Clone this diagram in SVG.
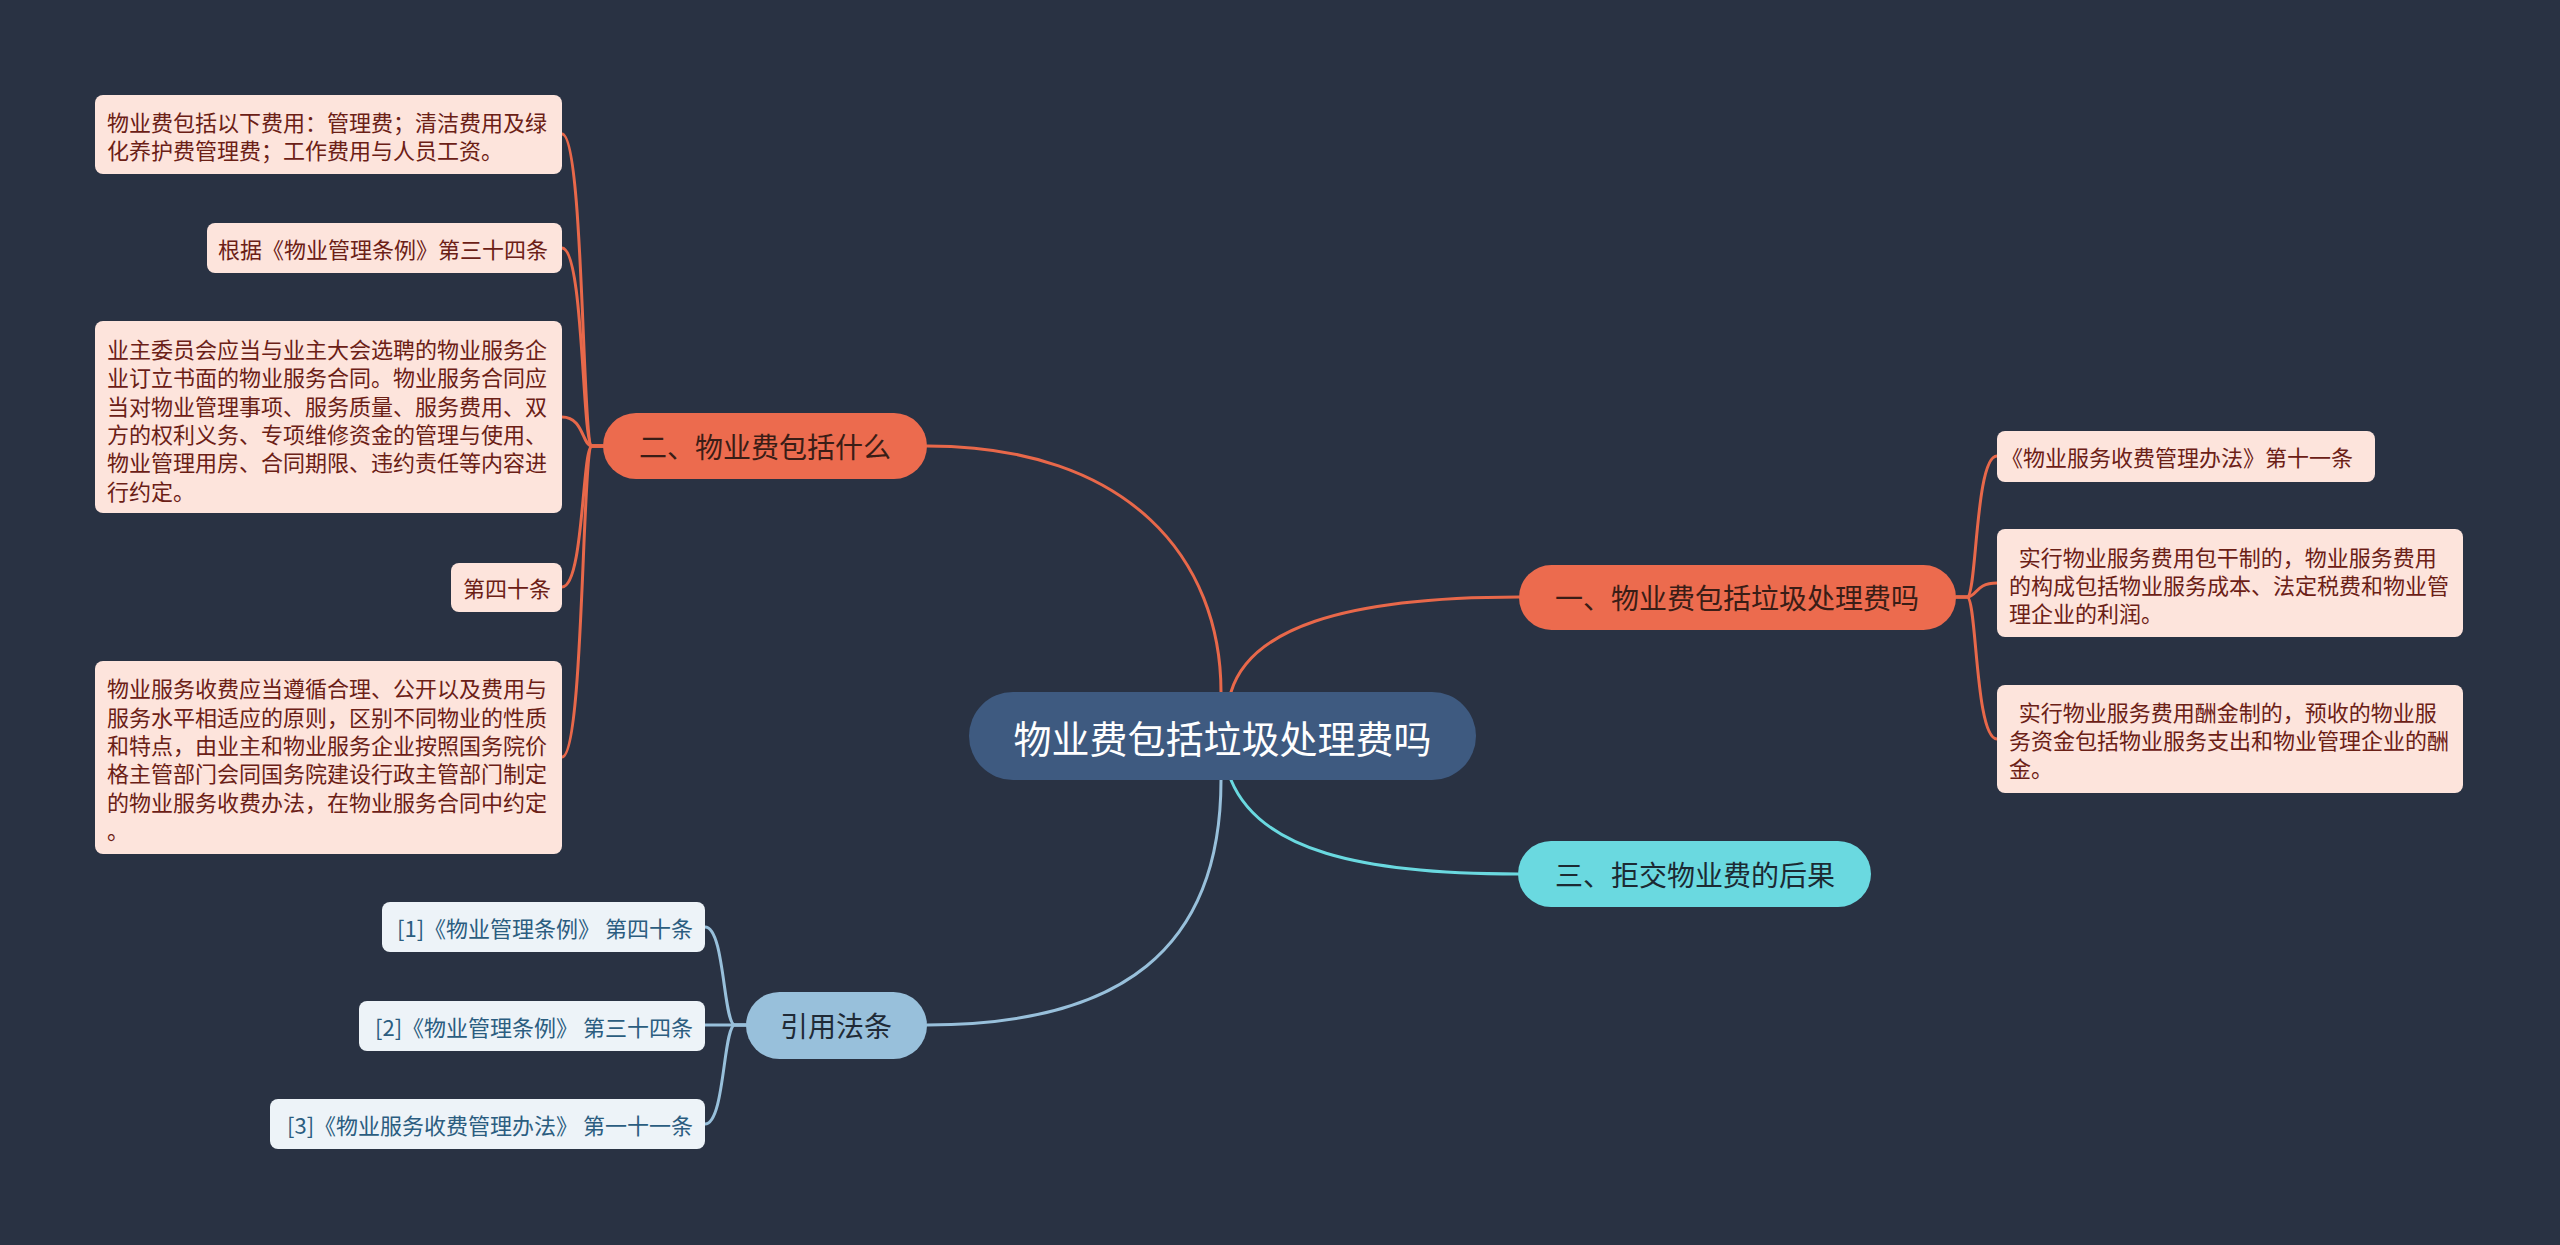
<svg xmlns="http://www.w3.org/2000/svg" width="2560" height="1245" viewBox="0 0 2560 1245">
<style>
text{font-family:"Noto Sans CJK SC","Noto Sans",sans-serif;dominant-baseline:central}
.bg{fill:#293243}
.cen{fill:#3e5a80}
.or{fill:#ec6b4e}
.cy{fill:#6ad9e0}
.bl{fill:#98c0db}
.leaf{fill:#fde4dc}
.cite{fill:#edf3f8}
.lt{font-size:22px;fill:#6b2016}
.ct{font-size:22px;fill:#2b5d80}
.mt{font-size:28px;fill:#3a1d16;text-anchor:middle}
.ln{fill:none;stroke-width:3;stroke-linecap:round}
.lo{stroke:#e8684a}
.lc{stroke:#6ad9e0}
.lb{stroke:#98c0db}
</style>
<rect class="bg" x="0" y="0" width="2560" height="1245"/>
<g id="connectors">
<path class="ln lo" d="M1221,692 C1221,560 1130,446 927,446"/>
<path class="ln lo" d="M1231,692 C1250,630 1340,597 1519,597"/>
<path class="ln lc" d="M1231,780 C1260,850 1360,874 1518,874"/>
<path class="ln lb" d="M1221,780 C1221,950 1120,1025 927,1025"/>
<path class="ln lo" d="M603,446 H592 C582,446 584,134 562,134"/>
<path class="ln lo" d="M603,446 H592 C582,446 584,248 562,248"/>
<path class="ln lo" d="M603,446 H592 C582,446 584,417 562,417"/>
<path class="ln lo" d="M603,446 H592 C582,446 584,587 562,587"/>
<path class="ln lo" d="M603,446 H592 C582,446 584,757 562,757"/>
<path class="ln lo" d="M1956,597 H1967 C1977,597 1975,456 1997,456"/>
<path class="ln lo" d="M1956,597 H1967 C1977,597 1975,583 1997,583"/>
<path class="ln lo" d="M1956,597 H1967 C1977,597 1975,739 1997,739"/>
<path class="ln lb" d="M746,1025 H735 C723,1025 725,927 705,927"/>
<path class="ln lb" d="M746,1025 H705"/>
<path class="ln lb" d="M746,1025 H735 C723,1025 725,1124 705,1124"/>
</g>
<g id="center">
<rect class="cen" x="969" y="692" width="507" height="88" rx="44"/>
<text x="1222.5" y="736" font-size="38" fill="#ffffff" text-anchor="middle">物业费包括垃圾处理费吗</text>
</g>
<g id="n2">
<rect class="or" x="603" y="413" width="324" height="66" rx="33"/>
<text class="mt" x="765" y="446">二、物业费包括什么</text>
</g>
<g id="n1">
<rect class="or" x="1519" y="565" width="437" height="65" rx="32.5"/>
<text class="mt" x="1737" y="597">一、物业费包括垃圾处理费吗</text>
</g>
<g id="n3">
<rect class="cy" x="1518" y="841" width="353" height="66" rx="33"/>
<text class="mt" x="1695" y="874" style="fill:#1c2a33">三、拒交物业费的后果</text>
</g>
<g id="ncite">
<rect class="bl" x="746" y="992" width="181" height="67" rx="33.5"/>
<text class="mt" x="836" y="1025" style="fill:#1f2a36">引用法条</text>
</g>
<g id="l2a">
<rect class="leaf" x="95" y="95" width="467" height="79" rx="8"/>
<text class="lt" x="107" y="121">物业费包括以下费用：管理费；清洁费用及绿</text>
<text class="lt" x="107" y="149">化养护费管理费；工作费用与人员工资。</text>
</g>
<g id="l2b">
<rect class="leaf" x="207" y="223" width="355" height="50" rx="8"/>
<text class="lt" x="218" y="248">根据《物业管理条例》第三十四条</text>
</g>
<g id="l2c">
<rect class="leaf" x="95" y="321" width="467" height="192" rx="8"/>
<text class="lt" x="107" y="348">业主委员会应当与业主大会选聘的物业服务企</text>
<text class="lt" x="107" y="376">业订立书面的物业服务合同。物业服务合同应</text>
<text class="lt" x="107" y="405">当对物业管理事项、服务质量、服务费用、双</text>
<text class="lt" x="107" y="433">方的权利义务、专项维修资金的管理与使用、</text>
<text class="lt" x="107" y="461">物业管理用房、合同期限、违约责任等内容进</text>
<text class="lt" x="107" y="490">行约定。</text>
</g>
<g id="l2d">
<rect class="leaf" x="451" y="563" width="111" height="49" rx="8"/>
<text class="lt" x="463" y="587">第四十条</text>
</g>
<g id="l2e">
<rect class="leaf" x="95" y="661" width="467" height="193" rx="8"/>
<text class="lt" x="107" y="687">物业服务收费应当遵循合理、公开以及费用与</text>
<text class="lt" x="107" y="716">服务水平相适应的原则，区别不同物业的性质</text>
<text class="lt" x="107" y="744">和特点，由业主和物业服务企业按照国务院价</text>
<text class="lt" x="107" y="772">格主管部门会同国务院建设行政主管部门制定</text>
<text class="lt" x="107" y="801">的物业服务收费办法，在物业服务合同中约定</text>
<text class="lt" x="107" y="829">。</text>
</g>
<g id="l1a">
<rect class="leaf" x="1997" y="431" width="378" height="51" rx="8"/>
<text class="lt" x="2001" y="456">《物业服务收费管理办法》第十一条</text>
</g>
<g id="l1b">
<rect class="leaf" x="1997" y="529" width="466" height="108" rx="8"/>
<text class="lt" x="2009" y="556" xml:space="preserve">  实行物业服务费用包干制的，物业服务费用</text>
<text class="lt" x="2009" y="584">的构成包括物业服务成本、法定税费和物业管</text>
<text class="lt" x="2009" y="612">理企业的利润。</text>
</g>
<g id="l1c">
<rect class="leaf" x="1997" y="685" width="466" height="108" rx="8"/>
<text class="lt" x="2009" y="711" xml:space="preserve">  实行物业服务费用酬金制的，预收的物业服</text>
<text class="lt" x="2009" y="739">务资金包括物业服务支出和物业管理企业的酬</text>
<text class="lt" x="2009" y="767">金。</text>
</g>
<g id="c1">
<rect class="cite" x="382" y="902" width="323" height="50" rx="8"/>
<text class="ct" x="693" y="927" text-anchor="end">[1]《物业管理条例》 第四十条</text>
</g>
<g id="c2">
<rect class="cite" x="359" y="1001" width="346" height="50" rx="8"/>
<text class="ct" x="693" y="1026" text-anchor="end">[2]《物业管理条例》 第三十四条</text>
</g>
<g id="c3">
<rect class="cite" x="270" y="1099" width="435" height="50" rx="8"/>
<text class="ct" x="693" y="1124" text-anchor="end">[3]《物业服务收费管理办法》 第一十一条</text>
</g>
</svg>
